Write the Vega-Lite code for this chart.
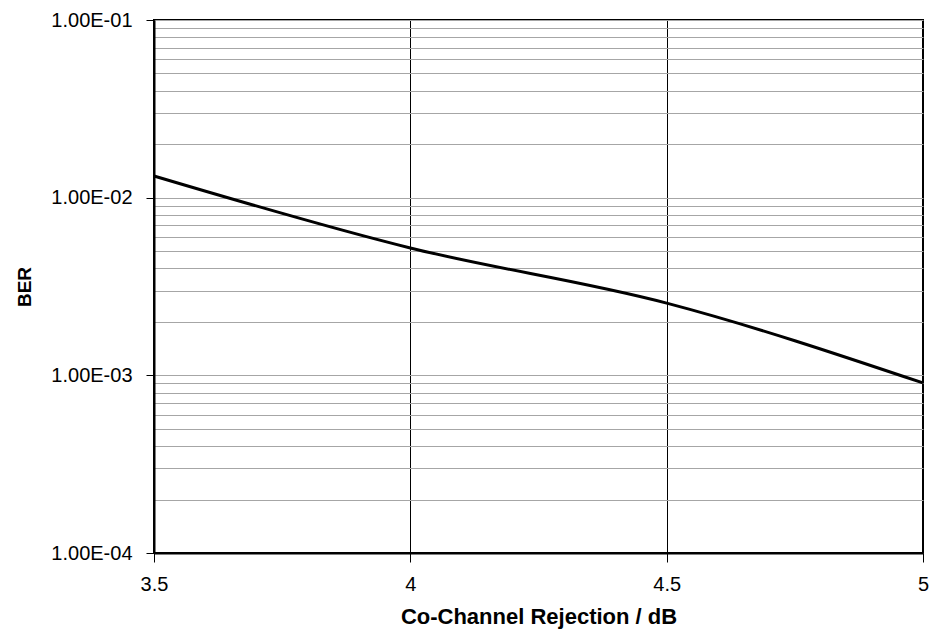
{
  "$schema": "https://vega.github.io/schema/vega-lite/v6.json",
  "width": 769,
  "height": 533,
  "autosize": "none",
  "padding": {"left": 154, "top": 20, "right": 10, "bottom": 84},
  "background": "white",
  "config": {
    "font": "Liberation Sans",
    "view": {"stroke": "black", "strokeWidth": 2}
  },
  "data": {
    "values": [
      {"x": 3.5, "ber": 0.01325},
      {"x": 4.0, "ber": 0.00521},
      {"x": 4.5, "ber": 0.00255},
      {"x": 5.0, "ber": 0.000906}
    ]
  },
  "mark": {"type": "line", "interpolate": "monotone", "color": "black", "strokeWidth": 3},
  "encoding": {
    "x": {
      "field": "x",
      "type": "quantitative",
      "scale": {"domain": [3.5, 5], "nice": false, "zero": false},
      "axis": {
        "title": "Co-Channel Rejection / dB",
        "values": [3.5, 4, 4.5, 5],
        "labelExpr": "toString(datum.value)",
        "grid": true,
        "gridColor": "black",
        "gridWidth": 1,
        "gridOpacity": 1,
        "domainColor": "black",
        "domainWidth": 2,
        "tickColor": "black",
        "tickSize": 9,
        "tickWidth": 1,
        "labelFontSize": 20,
        "labelColor": "black",
        "labelPadding": 12,
        "labelFlush": false,
        "labelOverlap": false,
        "titleFontSize": 22,
        "titleFontWeight": "bold",
        "titleColor": "black",
        "titlePadding": 12
      }
    },
    "y": {
      "field": "ber",
      "type": "quantitative",
      "scale": {"type": "log", "domain": [0.0001, 0.1], "nice": false},
      "axis": {
        "title": "BER",
        "values": [0.0001, 0.0002, 0.0003, 0.0004, 0.0005, 0.0006, 0.0007, 0.0008, 0.0009,
                   0.001, 0.002, 0.003, 0.004, 0.005, 0.006, 0.007, 0.008, 0.009,
                   0.01, 0.02, 0.03, 0.04, 0.05, 0.06, 0.07, 0.08, 0.09, 0.1],
        "labelExpr": "abs(log(datum.value)/LN10 - round(log(datum.value)/LN10)) < 0.001 ? '1.00E-0' + toString(-round(log(datum.value)/LN10)) : ''",
        "grid": true,
        "gridColor": "#a6a6a6",
        "gridWidth": 1,
        "gridOpacity": 1,
        "domainColor": "black",
        "domainWidth": 2,
        "tickColor": "black",
        "tickSize": 8,
        "tickWidth": 1,
        "tickOpacity": {"condition": {"test": "abs(log(datum.value)/LN10 - round(log(datum.value)/LN10)) < 0.001", "value": 1}, "value": 0},
        "labelFontSize": 20,
        "labelColor": "black",
        "labelPadding": 14,
        "labelFlush": false,
        "labelOverlap": false,
        "labelBaseline": "middle",
        "titleFontSize": 19,
        "titleFontWeight": "bold",
        "titleColor": "black",
        "titlePadding": 16
      }
    }
  }
}
